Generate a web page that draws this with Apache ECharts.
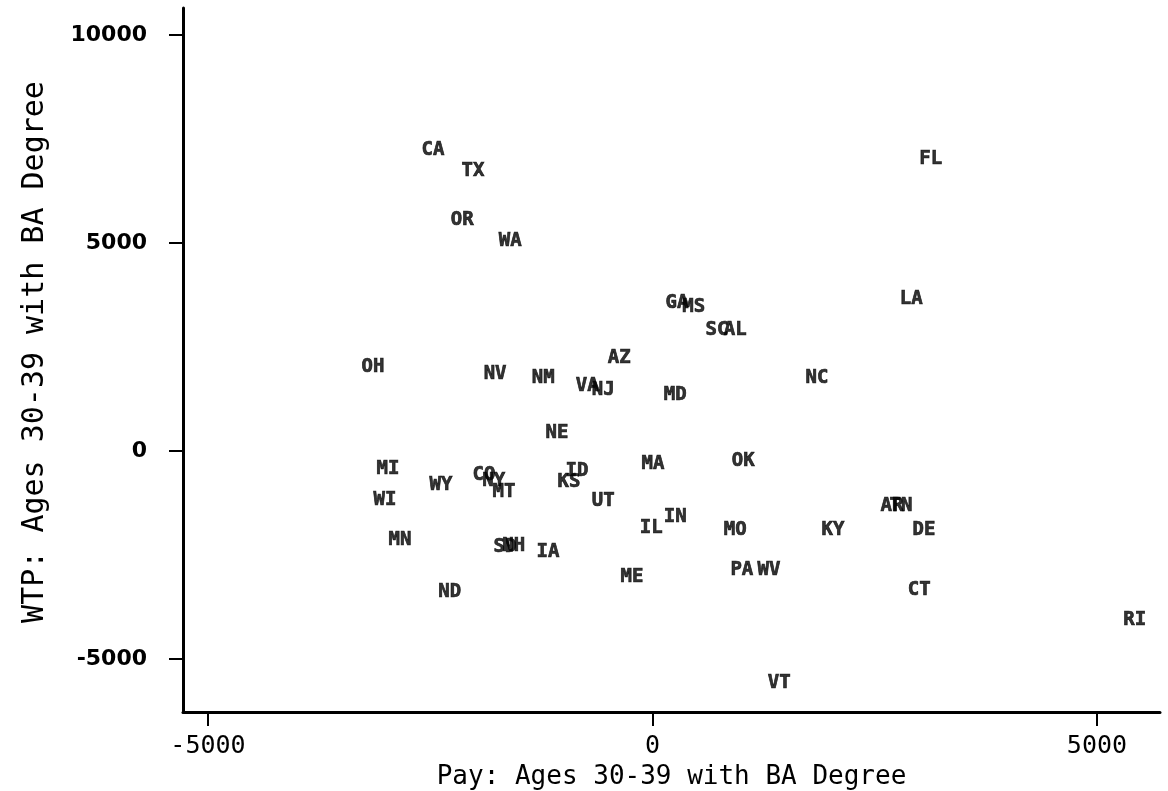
<!DOCTYPE html>
<html>
<head>
<meta charset="utf-8">
<script src="https://cdn.jsdelivr.net/npm/echarts@6/dist/echarts.min.js"></script>
<style>
  html, body { margin: 0; padding: 0; background: #fff; }
  #chart { width: 1168px; height: 791px; }
</style>
</head>
<body>
<div id="chart"></div>
<script>
// State abbreviations and their pay / WTP differences (ages 30-39, BA degree)
const states = ['CA','TX','OR','WA','FL','LA','GA','MS','SC','AL','AZ','NC','MD','OH','NV','NM','VA','NJ','NE',
  'MI','WY','CO','NY','MT','ID','KS','MA','WI','UT','MN','SD','NH','IA','IL','IN','ME','ND','OK','MO','PA','WV',
  'KY','AR','TN','DE','CT','RI','VT'];
const pay = [-2470,-2020,-2140,-1600,3130,2910,275,465,725,930,-375,1850,255,-3145,-1770,-1230,-735,-555,-1075,
  -2975,-2380,-1895,-1785,-1670,-850,-940,5,-3010,-555,-2840,-1660,-1560,-1175,-15,255,-230,-2280,1020,930,1005,1310,
  2030,2695,2795,3055,3000,5425,1425];
const wtp = [7240,6730,5550,5050,7020,3650,3560,3460,2910,2910,2235,1755,1345,2020,1850,1755,1560,1465,435,
  -430,-820,-575,-720,-985,-480,-745,-310,-1180,-1200,-2140,-2310,-2285,-2430,-1850,-1585,-3030,-3390,-240,-1900,-2860,-2860,
  -1900,-1320,-1320,-1900,-3340,-4060,-5575];
const xTicks = [-5000, 0, 5000];
const yTicks = [-5000, 0, 5000, 10000];
const xTitle = 'Pay: Ages 30-39 with BA Degree';
const yTitle = 'WTP: Ages 30-39 with BA Degree';

const points = states.map((s, i) => [pay[i], wtp[i], s]);

const chart = echarts.init(document.getElementById('chart'), null, { renderer: 'canvas' });
chart.setOption({
  backgroundColor: '#ffffff',
  animation: false,
  grid: { left: 183, right: 8, top: 8, bottom: 79, containLabel: false, outerBoundsMode: 'none' },
  xAxis: {
    type: 'value',
    min: -5281, max: 5709,
    splitLine: { show: false },
    axisLine: { show: true, onZero: false, lineStyle: { color: '#000', width: 3 } },
    axisTick: { show: true, customValues: xTicks, length: 14, lineStyle: { color: '#000', width: 2 } },
    axisLabel: {
      customValues: xTicks, margin: 22, color: '#000',
      fontFamily: 'DejaVu Sans Mono', fontSize: 25,
      formatter: v => String(v)
    },
    name: xTitle, nameLocation: 'middle', nameGap: 49,
    nameTextStyle: { color: '#000', fontFamily: 'DejaVu Sans Mono', fontSize: 26 }
  },
  yAxis: {
    type: 'value',
    min: -6274, max: 10649,
    splitLine: { show: false },
    axisLine: { show: true, onZero: false, lineStyle: { color: '#000', width: 3 } },
    axisTick: { show: true, customValues: yTicks, length: 14, lineStyle: { color: '#000', width: 2 } },
    axisLabel: {
      customValues: yTicks, margin: 36, color: '#000',
      fontFamily: 'DejaVu Sans', fontWeight: 'bold', fontSize: 22,
      formatter: v => String(v)
    },
    name: yTitle, nameLocation: 'middle', nameGap: 133, nameRotate: 90,
    nameTextStyle: { color: '#000', fontFamily: 'DejaVu Sans Mono', fontSize: 30, padding: [0, 0, 0, 16] }
  },
  series: [{
    type: 'scatter',
    data: points,
    symbolSize: 0,
    itemStyle: { color: 'transparent' },
    label: {
      show: true, position: 'inside',
      formatter: p => p.data[2],
      color: '#000', fontFamily: 'DejaVu Sans Mono', fontWeight: 'bold', fontSize: 19,
      textBorderColor: '#000', textBorderWidth: 0.7
    },
    labelLayout: { hideOverlap: false },
    emphasis: { disabled: true }
  }]
});
</script>
</body>
</html>
